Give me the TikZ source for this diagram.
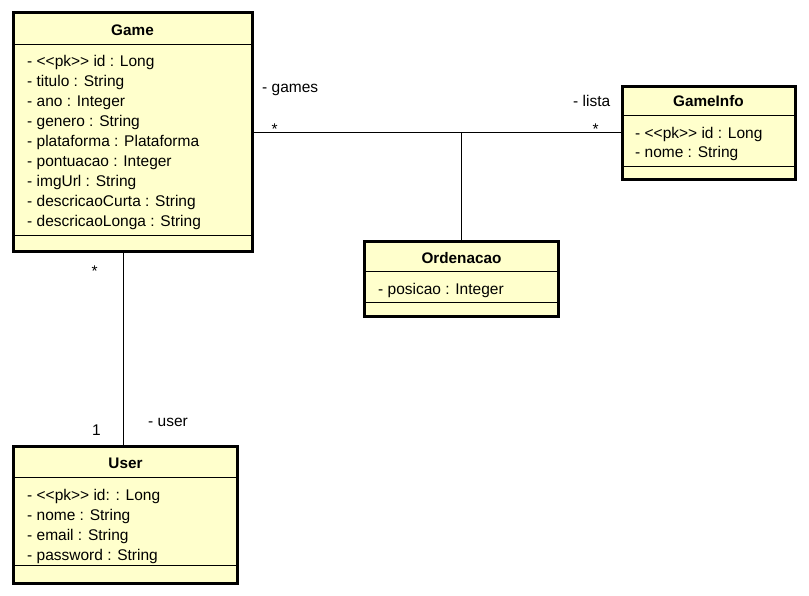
\documentclass[tikz,border=0pt]{standalone}
\usepackage{fontspec}
\setmainfont{Liberation Sans}[Ligatures=TeXOff]
\definecolor{classfill}{HTML}{FFFFCC}
\begin{document}
\begin{tikzpicture}[x=1pt,y=-1pt,
  classbox/.style={draw=black, line width=3pt, fill=classfill, inner sep=0pt, rectangle},
  sep/.style={line width=1pt},
  ctitle/.style={font=\fontsize{15.3}{18}\selectfont\bfseries, inner sep=0pt, anchor=base},
  attr/.style={font=\fontsize{15.5}{18}\selectfont, inner sep=0pt, anchor=base west},
  lbl/.style={font=\fontsize{15.5}{18}\selectfont, inner sep=0pt, anchor=base west},
  assoc/.style={line width=1pt}]
\useasboundingbox (0,0) rectangle (809,596);
\fill[white] (0,0) rectangle (809,596);

% ---- class Game ----
\node[classbox, minimum width=239pt, minimum height=239pt] (game) at (132.5,132.5) {};
\draw[sep] (13,44.5) -- (252,44.5);
\draw[sep] (13,236) -- (252,236);
\node[ctitle] (gametitle) at (132.5,35.7) {Game};
\foreach \t [count=\i from 0] in {%
  - <<pk>> id : Long,
  - titulo : String,
  - ano : Integer,
  - genero : String,
  - plataforma : Plataforma,
  - pontuacao : Integer,
  - imgUrl : String,
  - descricaoCurta : String,
  - descricaoLonga : String}
  \node[attr] (gameattr\i) at (27,66.5+20*\i) {\t};

% ---- class GameInfo ----
\node[classbox, minimum width=173pt, minimum height=93.5pt] (gameinfo) at (708.5,133.25) {};
\draw[sep] (622,116) -- (795,116);
\draw[sep] (622,167) -- (795,167);
\node[ctitle] (gameinfotitle) at (708.5,106.7) {GameInfo};
\node[attr] (gameinfoattr0) at (635,138.3) {- <<pk>> id : Long};
\node[attr] (gameinfoattr1) at (635,157.8) {- nome : String};

% ---- class Ordenacao ----
\node[classbox, minimum width=194pt, minimum height=75pt] (ord) at (461.5,279) {};
\draw[sep] (364.5,271.5) -- (558.5,271.5);
\draw[sep] (364.5,302.5) -- (558.5,302.5);
\node[ctitle] (ordtitle) at (461.5,263.3) {Ordenacao};
\node[attr] (ordattr0) at (378,294.3) {- posicao : Integer};

% ---- class User ----
\node[classbox, minimum width=224pt, minimum height=137pt] (user) at (125.5,515) {};
\draw[sep] (13.5,477) -- (237.5,477);
\draw[sep] (13.5,565) -- (237.5,565);
\node[ctitle] (usertitle) at (125.5,468.3) {User};
\foreach \t [count=\i from 0] in {%
  - <<pk>> id: : Long,
  - nome : String,
  - email : String,
  - password : String}
  \node[attr] (userattr\i) at (27,500.7+20*\i) {\t};

% ---- associations ----
\coordinate (gl) at (461.5,132.5);
\coordinate (gu) at (123.3,350);
\draw[assoc] (game.east |- gl) -- (gameinfo.west |- gl);
\draw[assoc] (gl) -- (ord.north);
\draw[assoc] (game.south -| gu) -- (user.north -| gu);

% ---- role names and multiplicities ----
\node[lbl] (rgames) at (262,93) {- games};
\node[lbl] (mgames) at (271.5,134.5) {*};
\node[lbl] (rlista) at (573,106.5) {- lista};
\node[lbl] (mlista) at (592.5,134.5) {*};
\node[lbl] (mgame) at (91.5,276.5) {*};
\node[lbl] (muser) at (92,435) {1};
\node[lbl] (ruser) at (148,426.7) {- user};
\end{tikzpicture}
\end{document}
